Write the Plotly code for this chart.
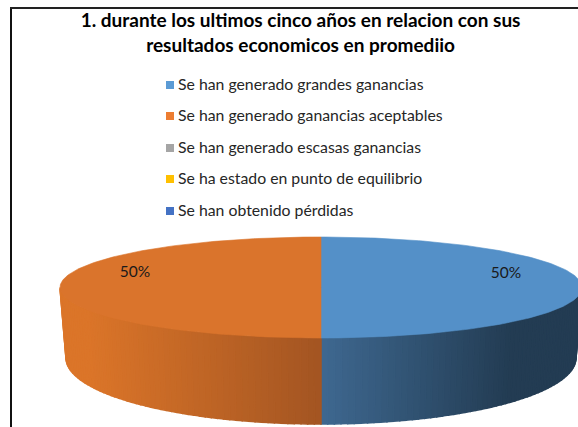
import numpy as np
import plotly.graph_objects as go

TITLE = "1. durante los ultimos cinco años en relacion con sus<br>resultados economicos en promediio"
CATEGORIES = [
    "Se han generado grandes ganancias",
    "Se han generado ganancias aceptables",
    "Se han generado escasas ganancias",
    "Se ha estado en punto de equilibrio",
    "Se han obtenido pérdidas",
]
VALUES = [50, 50, 0, 0, 0]
LEGEND_COLORS = ["#5B9BD5", "#ED7D31", "#A5A5A5", "#FFC000", "#4472C4"]
TOP_COLORS = {0: "#5490C8", 1: "#DA742C"}
FONT = "Lato"

W, H = 578, 427
CX, CY, RX, RY = 321, 287.5, 261, 50.5      # top ellipse
BCY, BRX, BRY = 358, 255, 66                # bottom ellipse of the rim

def mix(a, b, t):
    a = [int(a[i:i + 2], 16) for i in (1, 3, 5)]
    b = [int(b[i:i + 2], 16) for i in (1, 3, 5)]
    return "rgb(%d,%d,%d)" % tuple(round(p + (q - p) * t) for p, q in zip(a, b))

def rim_color(x):
    """Rim shading runs across the horizontal position of the strip."""
    if x >= CX:
        return mix("#3E6890", "#233C53", min(1, (x - CX) / 190))
    return mix("#A35522", "#DB7529", min(1, (CX - x) / 235))

fig = go.Figure()

def poly(xs, ys, color, lw=0.6):
    fig.add_trace(go.Scatter(x=xs, y=ys, mode="lines", fill="toself", fillcolor=color,
                             line=dict(color=color, width=lw), hoverinfo="skip", showlegend=False))

def top_xy(th):
    r = np.radians(th)
    return CX + RX * np.sin(r), CY - RY * np.cos(r)

def bottom_xy(th):
    r = np.radians(th)
    return CX + BRX * np.sin(r), BCY - BRY * np.cos(r)

# rim strips: overlap each one with its neighbour so no seams show
edges = np.linspace(90, 270, 121)
for a, b in zip(edges[:-1], edges[1:]):
    ang = np.array([a, b])
    tx, ty = top_xy(ang)
    bx, by = bottom_xy(ang)
    poly([tx[0], tx[1], bx[1], bx[0], tx[0]], [ty[0], ty[1], by[1], by[0], ty[0]],
         rim_color((tx[0] + tx[1]) / 2), lw=1.5)

# top slices, angles follow the values
total = sum(VALUES)
start = 0.0
for i, v in enumerate(VALUES):
    if v == 0:
        continue
    end = start + 360 * v / total
    th = np.linspace(start, end, 181)
    x, y = top_xy(th)
    poly(np.r_[CX, x, CX], np.r_[CY, y, CY], TOP_COLORS[i])
    start = end

# percentage labels
LABEL_X = [506, 135]
LABEL_Y = [274, 273]
pct = [f"{round(100 * v / total)}%" for v in VALUES if v > 0]
fig.add_trace(go.Scatter(x=LABEL_X, y=LABEL_Y, mode="text", text=pct,
                         textfont=dict(family=FONT, size=15.5, color="#1a1a1a"),
                         hoverinfo="skip", showlegend=False))

# legend entries
LEG_Y = [86, 117, 149, 180, 212]
MARK_Y = [85, 116, 148, 179, 211]
fig.add_trace(go.Scatter(x=[170] * 5, y=MARK_Y, mode="markers",
                         marker=dict(symbol="square", size=8, color=LEGEND_COLORS, line=dict(width=0)),
                         hoverinfo="skip", showlegend=False))
fig.add_trace(go.Scatter(x=[178] * 5, y=LEG_Y, mode="text", text=CATEGORIES, textposition="middle right",
                         textfont=dict(family=FONT, size=15.8, color="#262626"),
                         hoverinfo="skip", showlegend=False))

fig.update_layout(
    width=W, height=H, autosize=False,
    margin=dict(l=0, r=0, t=0, b=0),
    paper_bgcolor="white", plot_bgcolor="white",
    showlegend=False,
    xaxis=dict(range=[0, W], visible=False, fixedrange=True),
    yaxis=dict(range=[H, 0], visible=False, fixedrange=True),
    title=dict(text=TITLE, x=0.52, xanchor="center", y=0.936, yanchor="middle",
               font=dict(family=FONT, size=19, color="black", weight="bold")),
    shapes=[
        dict(type="line", xref="x", yref="y", x0=11, x1=11, y0=8, y1=H, line=dict(color="#111111", width=2)),
        dict(type="line", xref="x", yref="y", x0=10, x1=W, y0=8, y1=8, line=dict(color="#222222", width=2)),
    ],
)
fig.write_html("out.html", config={"displayModeBar": False},
               post_script="document.body.style.margin='0';document.documentElement.style.overflow='hidden';")
